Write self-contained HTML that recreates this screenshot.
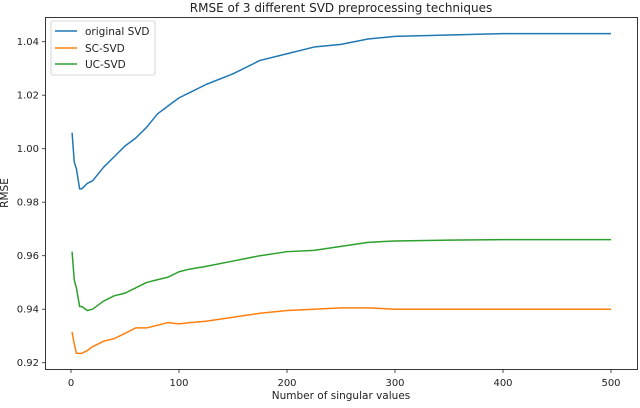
<!DOCTYPE html>
<html><head><meta charset="utf-8"><style>
body{margin:0;background:#fff;font-family:"Liberation Sans","DejaVu Sans",sans-serif}
svg text{font-family:"DejaVu Sans","Liberation Sans",sans-serif;fill:#222}
</style></head><body>
<svg id="chart" width="640" height="403" xmlns="http://www.w3.org/2000/svg">
<text x="341" y="12" text-anchor="middle" font-size="12">RMSE of 3 different SVD preprocessing techniques</text>
<g id="plot"></g>
<rect x="45.5" y="17.5" width="592" height="352" fill="none" stroke="#222" stroke-width="0.9"/>
<text x="341" y="399" text-anchor="middle" font-size="10.5">Number of singular values</text>
<text transform="translate(8,193) rotate(-90)" text-anchor="middle" font-size="10.5">RMSE</text>
<g>
<rect x="51" y="21" width="104" height="54" rx="2" fill="#fff" stroke="#ccc" stroke-width="0.8"/>
<line x1="55" y1="31" x2="77" y2="31" stroke="#1f77b4" stroke-width="1.5"/>
<text x="85" y="35" font-size="10.5">original SVD</text>
<line x1="55" y1="48" x2="77" y2="48" stroke="#ff7f0e" stroke-width="1.5"/>
<text x="85" y="52" font-size="10.5">SC-SVD</text>
<line x1="55" y1="64" x2="77" y2="64" stroke="#2ca02c" stroke-width="1.5"/>
<text x="85" y="68" font-size="10.5">UC-SVD</text>
</g>
</svg>
<script>
const xs=[1,3,5,8,10,15,20,30,40,50,60,70,80,90,100,110,125,150,175,200,225,250,275,300,350,400,450,500];
const origSVD=[1.006,0.995,0.9925,0.985,0.985,0.987,0.988,0.993,0.997,1.001,1.004,1.008,1.013,1.016,1.019,1.021,1.024,1.028,1.033,1.0355,1.038,1.039,1.041,1.042,1.0425,1.043,1.043,1.043];
const ucSVD=[0.9615,0.951,0.948,0.941,0.941,0.9395,0.940,0.943,0.945,0.946,0.948,0.950,0.951,0.952,0.954,0.955,0.956,0.958,0.960,0.9615,0.962,0.9635,0.965,0.9655,0.9658,0.966,0.966,0.966];
const scSVD=[0.9315,0.927,0.9235,0.9235,0.9235,0.9245,0.926,0.928,0.929,0.931,0.933,0.933,0.934,0.935,0.9345,0.935,0.9355,0.937,0.9385,0.9395,0.940,0.9405,0.9405,0.940,0.940,0.940,0.940,0.940];
const xTicks=[0,100,200,300,400,500];
const yTicks=[0.92,0.94,0.96,0.98,1.00,1.02,1.04];
const xS=v=>71+v*1.08;
const yS=v=>362.7-(v-0.92)*(321/0.12);
const g=document.getElementById('plot');
const NS='http://www.w3.org/2000/svg';
function mk(t,a){const e=document.createElementNS(NS,t);for(const k in a)e.setAttribute(k,a[k]);g.appendChild(e);return e;}
xTicks.forEach(t=>{
const l=mk('line',{x1:xS(t),x2:xS(t),y1:369.5,y2:373,stroke:'#222','stroke-width':0.8});


const tx=mk('text',{x:xS(t),y:386,'text-anchor':'middle','font-size':10});
tx.textContent=t;


});
yTicks.forEach(t=>{
const l=mk('line',{x1:42,x2:45.5,y1:yS(t),y2:yS(t),stroke:'#222','stroke-width':0.8});


const tx=mk('text',{x:39,y:yS(t)+3.5,'text-anchor':'end','font-size':10});
tx.textContent=t.toFixed(2);


});
function line(vals,color,name){
const p=mk('polyline',{points:xs.map((x,i)=>xS(x)+','+yS(vals[i])).join(' '),fill:'none',stroke:color,'stroke-width':1.5,'stroke-linejoin':'round'});


}
line(origSVD,'#1f77b4','original-svd-line');
line(scSVD,'#ff7f0e','sc-svd-line');
line(ucSVD,'#2ca02c','uc-svd-line');
</script>
</body></html>
